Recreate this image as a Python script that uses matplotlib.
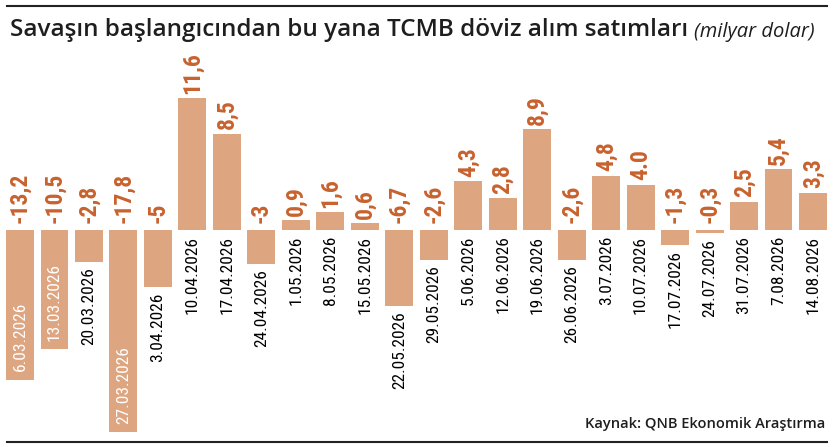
import matplotlib
matplotlib.use('Agg')
import matplotlib.pyplot as plt
from matplotlib import font_manager

# weekly CBRT fx buy/sell (bn USD)
dates = ['6.03.2026', '13.03.2026', '20.03.2026', '27.03.2026', '3.04.2026',
         '10.04.2026', '17.04.2026', '24.04.2026', '1.05.2026', '8.05.2026',
         '15.05.2026', '22.05.2026', '29.05.2026', '5.06.2026', '12.06.2026',
         '19.06.2026', '26.06.2026', '3.07.2026', '10.07.2026', '17.07.2026',
         '24.07.2026', '31.07.2026', '7.08.2026', '14.08.2026']
values = [-13.2, -10.5, -2.8, -17.8, -5, 11.6, 8.5, -3, 0.9, 1.6, 0.6, -6.7,
          -2.6, 4.3, 2.8, 8.9, -2.6, 4.8, 4.0, -1.3, -0.3, 2.5, 5.4, 3.3]
value_labels = ['-13,2', '-10,5', '-2,8', '-17,8', '-5', '11,6', '8,5', '-3',
                '0,9', '1,6', '0,6', '-6,7', '-2,6', '4,3', '2,8', '8,9', '-2,6',
                '4,8', '4.0', '-1,3', '-0,3', '2,5', '5,4', '3,3']

title = 'Savaşın başlangıcından bu yana TCMB döviz alım satımları'
unit = '(milyar dolar)'
source = 'Kaynak: QNB Ekonomik Araştırma'

bar_color = '#dea581'
label_color = '#c8622e'
text_dark = '#1e1e1e'

installed = {f.name for f in font_manager.fontManager.ttflist}
narrow = {'family': 'DejaVu Sans', 'stretch': 'condensed'}
for name in ['Liberation Sans Narrow', 'Roboto Condensed']:
    if name in installed:
        narrow = {'family': name}
        break

W, H = 838, 447
fig = plt.figure(figsize=(W / 100, H / 100), dpi=100)

# axes placed so that bar 0 spans px 6..34 and baseline sits at px 230
ax = fig.add_axes([6 / W, 5 / H, 821 / W, 436 / H])
ax.set_xlim(-0.406, len(values) - 1 + 0.406)
ax.set_ylim(-18.68, 19.74)
ax.axis('off')

x = list(range(len(values)))
ax.bar(x, values, width=0.81, color=bar_color)

for i, (v, vl, d) in enumerate(zip(values, value_labels, dates)):
    # value label above the bar (or above baseline for negatives)
    if v >= 0:
        ax.annotate(vl, xy=(i, v), xytext=(0, 3), textcoords='offset points',
                    rotation=90, ha='center', va='bottom', fontsize=17,
                    fontweight='bold', color=label_color, **narrow)
    else:
        ax.annotate(vl, xy=(i, 0), xytext=(0, 5), textcoords='offset points',
                    rotation=90, ha='center', va='bottom', fontsize=17,
                    fontweight='bold', color=label_color, **narrow)
    # date label
    if v <= -10:
        ax.annotate(d, xy=(i, v), xytext=(0, 6), textcoords='offset points',
                    rotation=90, ha='center', va='bottom', fontsize=12.5,
                    color='white', **narrow)
    elif v < 0:
        ax.annotate(d, xy=(i, v), xytext=(0, -4), textcoords='offset points',
                    rotation=90, ha='center', va='top', fontsize=12.5,
                    color='black', **narrow)
    else:
        ax.annotate(d, xy=(i, 0), xytext=(0, -4), textcoords='offset points',
                    rotation=90, ha='center', va='top', fontsize=12.5,
                    color='black', **narrow)

# rules at top and bottom
fig.add_artist(plt.Line2D([7 / W, 827 / W], [1 - 6 / H, 1 - 6 / H],
                          transform=fig.transFigure, color='#222222', lw=1.5))
fig.add_artist(plt.Line2D([7 / W, 827 / W], [1 - 442 / H, 1 - 442 / H],
                          transform=fig.transFigure, color='#222222', lw=1.5))

title_font = ['Open Sans', 'Noto Sans', 'DejaVu Sans']
t = fig.text(10 / W, 1 - 36 / H, title, family=title_font, fontweight='semibold',
             fontsize=17.5, color=text_dark, va='baseline', ha='left')
ax.annotate(unit, xy=(1, 0), xycoords=t, xytext=(4, 0), textcoords='offset points',
            family=title_font, style='italic', fontsize=14.5, color=text_dark,
            va='bottom', ha='left', annotation_clip=False)

fig.text(825 / W, 1 - 428 / H, source, family=title_font, fontweight='semibold',
         fontsize=10.5, color=text_dark, va='baseline', ha='right')

fig.savefig('out.png', dpi=100)
